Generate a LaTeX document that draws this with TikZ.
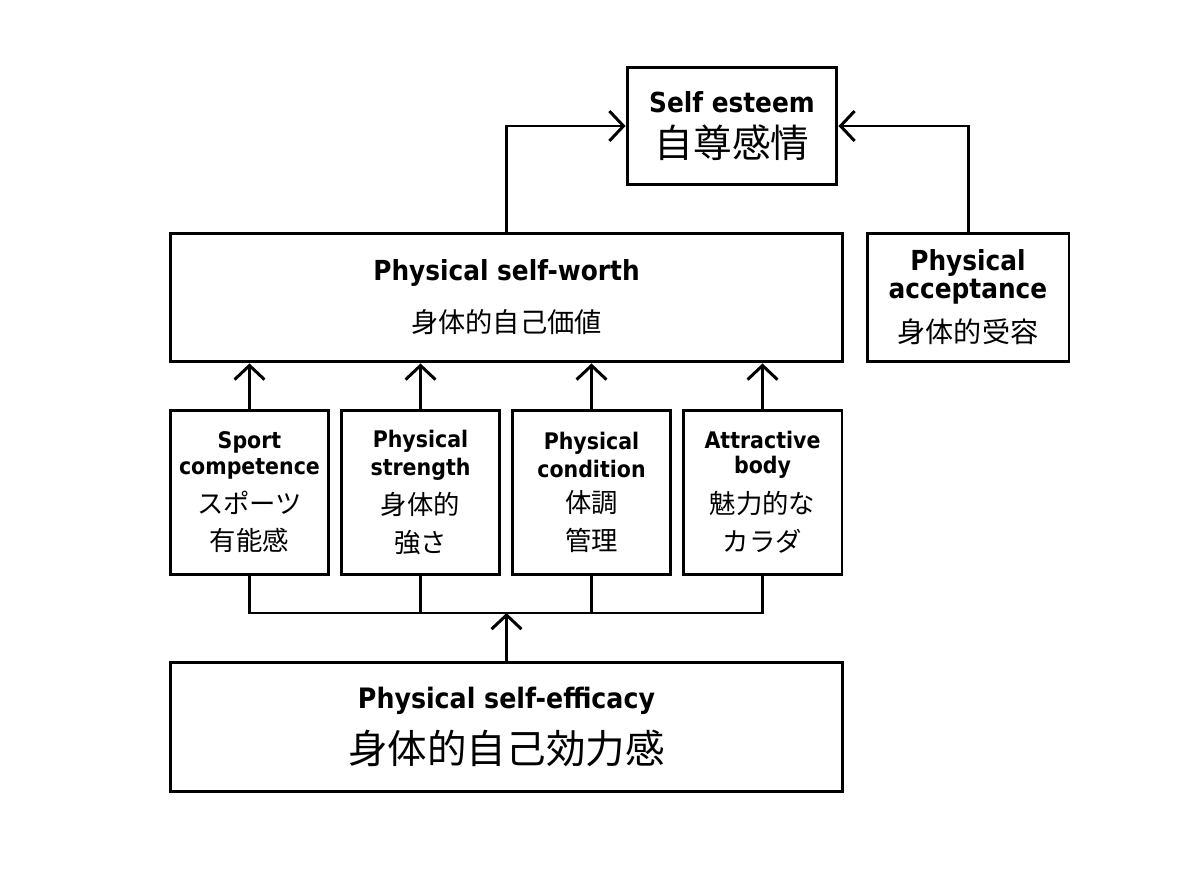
\documentclass[tikz,border=0pt]{standalone}
\usepackage{fontspec}
\usetikzlibrary{arrows.meta}
\newfontfamily\enfont{DejaVu Sans Condensed}
\newfontfamily\jpfont{Noto Sans CJK JP}
\newcommand{\ent}[2]{\fontsize{#1}{#2}\enfont\bfseries}
\newcommand{\jpt}[2]{\fontsize{#1}{#2}\jpfont\mdseries}
\tikzset{
  box/.style={draw, line width=1.7pt, align=center, inner sep=0pt},
  link/.style={line width=1.7pt},
  up/.style={link, -{Straight Barb[length=8pt,width=17pt,line width=1.7pt]}},
  small/.style={box, minimum width=3.18cm, minimum height=3.3cm}
}

\begin{document}
\begin{tikzpicture}[x=0.02cm, y=-0.02cm]
    \useasboundingbox (0,0) rectangle (1200,878);

    \node[box, minimum width=4.2cm, minimum height=2.36cm] (esteem) at (732,126)
        {\ent{15.7pt}{18pt}Self esteem\\[6.2pt]
         \jpt{22pt}{27.3pt}自尊感情};
    \node[box, minimum width=13.46cm, minimum height=2.58cm] (worth) at (506.5,297.5)
        {\ent{15.7pt}{18pt}Physical self-worth\\[12pt]
         \jpt{15.5pt}{30pt}身体的自己価値};
    \node[box, minimum width=4.04cm, minimum height=2.58cm] (accept) at (968,297.5)
        {\ent{15.7pt}{16pt}Physical\\[0.5pt]
         \ent{15.7pt}{16pt}acceptance\\[7.4pt]
         \jpt{16pt}{24.5pt}身体的受容};

    \node[small] (sport) at (249.5,492.5)
        {\ent{13pt}{14.8pt}Sport\\[2.3pt]
         \ent{13pt}{14.8pt}competence\\[6.2pt]
         \jpt{15pt}{22pt}スポーツ\\[6.8pt]
         \jpt{15pt}{21pt}有能感};
    \node[small] (strength) at (420.5,492.5)
        {\ent{13pt}{14.8pt}Physical\\[2.3pt]
         \ent{13pt}{14.8pt}strength\\[6.2pt]
         \jpt{15pt}{22pt}身体的\\[6.8pt]
         \jpt{15pt}{21pt}強さ};
    \node[small] (condition) at (591.5,492.5)
        {\ent{13pt}{14.8pt}Physical\\[2.3pt]
         \ent{13pt}{14.8pt}condition\\[6.2pt]
         \jpt{15pt}{22pt}体調\\[6.8pt]
         \jpt{15pt}{21pt}管理};
    \node[small] (attract) at (762.5,492.5)
        {\ent{13pt}{14.8pt}Attractive\\[2.3pt]
         \ent{13pt}{14.8pt}body\\[6.2pt]
         \jpt{15pt}{22pt}魅力的な\\[6.8pt]
         \jpt{15pt}{21pt}カラダ};

    \node[box, minimum width=13.46cm, minimum height=2.6cm] (efficacy) at (506.5,727)
        {\ent{16pt}{19pt}Physical self-efficacy\\[8pt]
         \jpt{22.5pt}{31.5pt}身体的自己効力感};

    % upper arrows
    \draw[up] (worth.north) |- (esteem.west);
    \draw[up] (accept.north) |- (esteem.east);
    \draw[up] (sport.north) -- (sport.north |- worth.south);
    \draw[up] (strength.north) -- (strength.north |- worth.south);
    \draw[up] (condition.north) -- (condition.north |- worth.south);
    \draw[up] (attract.north) -- (attract.north |- worth.south);

    % bus below the small boxes
    \coordinate (bus) at (506.5,613);
    \draw[link] (sport.south) |- (attract.south |- bus) -- (attract.south);
    \draw[link] (strength.south) -- (strength.south |- bus);
    \draw[link] (condition.south) -- (condition.south |- bus);
    \draw[up] (efficacy.north) -- (bus);
\end{tikzpicture}
\end{document}
